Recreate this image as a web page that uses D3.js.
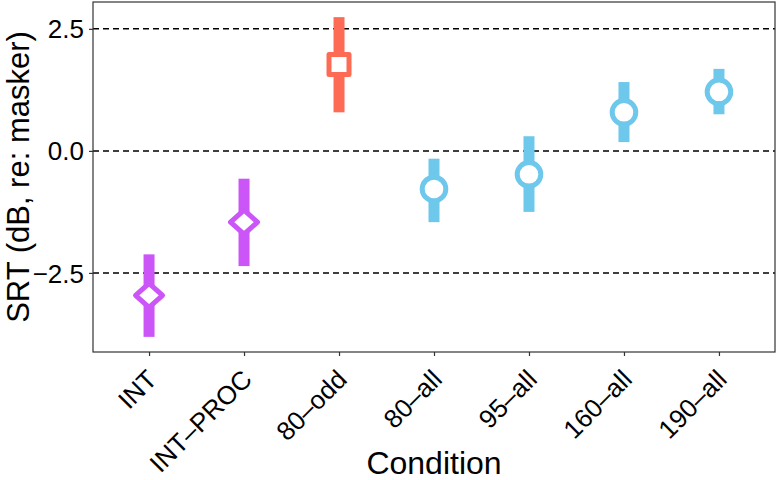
<!DOCTYPE html>
<html>
<head>
<meta charset="utf-8">
<script src="https://cdn.jsdelivr.net/npm/d3@7"></script>
<style>
  html, body { margin: 0; padding: 0; background: #fff; }
  svg { display: block; }
  text { font-family: "Liberation Sans", Arial, Helvetica, sans-serif; fill: #000; }
</style>
</head>
<body>
<svg id="chart" width="777" height="480"></svg>
<script>
// ---- data ----
const categories = ["INT", "INT\u2013PROC", "80\u2013odd", "80\u2013all", "95\u2013all", "160\u2013all", "190\u2013all"];
const means = [-2.96, -1.46, 1.77, -0.78, -0.48, 0.79, 1.21];
const lower = [-3.81, -2.36, 0.79, -1.46, -1.25, 0.18, 0.75];
const upper = [-2.12, -0.57, 2.74, -0.16, 0.30, 1.41, 1.68];
const markerTypes = ["diamond", "diamond", "square", "circle", "circle", "circle", "circle"];
const colorGroups = ["int", "int", "odd", "all", "all", "all", "all"];
const yTicks = [-2.5, 0.0, 2.5];
const refLines = [-2.5, 0.0, 2.5];

const palette = { int: "#cb55f7", odd: "#fd6b55", all: "#6ec8ec" };

// ---- layout ----
const svg = d3.select("#chart");
const L = 93, R = 775, T = 2, B = 352;

const x = d3.scaleLinear().domain([-0.59, categories.length - 1 + 0.59]).range([L, R]);
const y = d3.scaleLinear().domain([-4.12, 3.05]).range([B, T]);

// reference dashed lines
svg.append("g").selectAll("line").data(refLines).join("line")
  .attr("x1", L).attr("x2", R)
  .attr("y1", d => y(d)).attr("y2", d => y(d))
  .attr("stroke", "#000").attr("stroke-width", 1.5)
  .attr("stroke-dasharray", "6,4");

// y axis
const yAxis = d3.axisLeft(y).tickValues(yTicks)
  .tickFormat(d => d3.format(".1f")(d).replace("-", "\u2212"))
  .tickSize(4).tickPadding(5);
const gy = svg.append("g").attr("transform", `translate(${L},0)`).call(yAxis);
gy.select(".domain").remove();
gy.selectAll(".tick line").attr("stroke", "#333").attr("stroke-width", 1.2);
gy.selectAll(".tick text").style("font-size", "26px").attr("dy", "0.35em");

// x axis
const xAxis = d3.axisBottom(x).tickValues(d3.range(categories.length))
  .tickFormat(i => categories[i]).tickSize(4).tickPadding(4);
const gx = svg.append("g").attr("transform", `translate(0,${B})`).call(xAxis);
gx.select(".domain").remove();
gx.selectAll(".tick line").attr("stroke", "#333").attr("stroke-width", 1.2);
gx.selectAll(".tick text")
  .style("font-size", "26px")
  .attr("text-anchor", "end")
  .attr("dy", null)
  .attr("y", 0)
  .attr("transform", "translate(9,29) rotate(-45)");

// frame
svg.append("rect").attr("x", L).attr("y", T).attr("width", R - L).attr("height", B - T)
  .attr("fill", "none").attr("stroke", "#333").attr("stroke-width", 1.2);

// error bars
const idx = d3.range(categories.length);
svg.append("g").selectAll("rect").data(idx).join("rect")
  .attr("x", i => x(i) - 5.5).attr("width", 11)
  .attr("y", i => y(upper[i])).attr("height", i => y(lower[i]) - y(upper[i]))
  .attr("fill", i => palette[colorGroups[i]]);

// markers
const mg = svg.append("g");
idx.forEach(i => {
  const cx = x(i), cy = y(means[i]), col = palette[colorGroups[i]];
  const t = markerTypes[i];
  let el;
  if (t === "circle") {
    el = mg.append("circle").attr("cx", cx).attr("cy", cy).attr("r", 11.8);
  } else if (t === "square") {
    el = mg.append("rect").attr("x", cx - 10).attr("y", cy - 10).attr("width", 20).attr("height", 20);
  } else {
    const a = 13.5, b = 12;
    el = mg.append("path").attr("d", `M${cx},${cy - b}L${cx + a},${cy}L${cx},${cy + b}L${cx - a},${cy}Z`);
  }
  el.attr("fill", "#fff").attr("stroke", col).attr("stroke-width", 5).attr("stroke-linejoin", "round");
});

// axis labels
svg.append("text").attr("x", (L + R) / 2).attr("y", 474)
  .attr("text-anchor", "middle").style("font-size", "32px").text("Condition");
svg.append("text").attr("transform", `translate(29,${(T + B) / 2}) rotate(-90)`)
  .attr("text-anchor", "middle").style("font-size", "31px").text("SRT (dB, re: masker)");
</script>
</body>
</html>
